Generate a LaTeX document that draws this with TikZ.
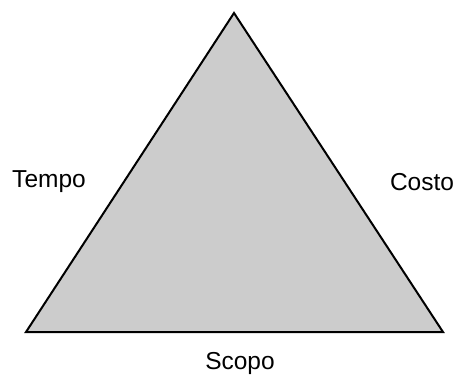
\documentclass[tikz,border=0pt]{standalone}
\usepackage{fontspec}
\setmainfont{Liberation Sans}
\usetikzlibrary{positioning}

\begin{document}
\begin{tikzpicture}[
    x=1pt, y=-1pt,
    lbl/.style={font=\fontsize{24.5}{28}\selectfont, inner sep=0pt},
    side/.style={draw=black, line width=2pt, line join=miter, fill=gray!40}
]
\useasboundingbox (0,0) rectangle (458,378);
\coordinate (top) at (234,13);
\coordinate (bl)  at (26,332);
\coordinate (br)  at (443,332);

\draw[side] (top) -- (bl) -- (br) -- cycle;

\node[lbl] (tempo) at (49,182) {Tempo};
\node[lbl] (costo) at (422,182) {Costo};
\node[lbl] (scopo) at (240,363) {Scopo};
\end{tikzpicture}
\end{document}
